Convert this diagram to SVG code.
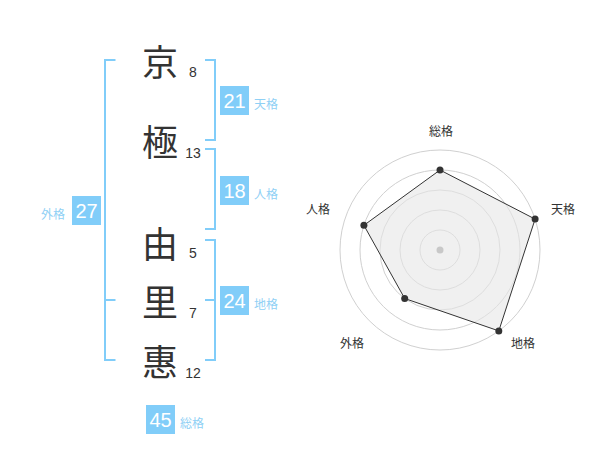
<svg xmlns="http://www.w3.org/2000/svg" width="600" height="470" viewBox="0 0 600 470">
<style>
.ch{font-family:"Noto Sans CJK JP","Noto Sans CJK SC",sans-serif;font-size:36px;fill:#333;text-anchor:middle;dominant-baseline:central}
.num{font-family:"Liberation Sans",Arial,sans-serif;font-size:14px;fill:#333;text-anchor:middle}
.box{fill:#81cdf9}
.bt{font-family:"Liberation Sans",Arial,sans-serif;font-size:20px;fill:#fff;text-anchor:middle;dominant-baseline:central}
.lb{font-family:"Noto Sans CJK JP","Noto Sans CJK SC",sans-serif;font-size:12px;fill:#8fd0f5;dominant-baseline:central}
.br{fill:none;stroke:#81cdf9;stroke-width:2}
.ring{fill:none;stroke:#d0d0d0;stroke-width:1}
.rl{font-family:"Noto Sans CJK JP","Noto Sans CJK SC",sans-serif;font-size:12px;fill:#333;text-anchor:middle;dominant-baseline:central}
.pt{fill:#333}
</style>
<g id="connectors">
<path class="br" d="M115.5,60 H105 V360 H115.5 M105,300 H115.5"/>
<path class="br" d="M205,60 H215 V140 H205"/>
<path class="br" d="M205,149 H215 V229 H205"/>
<path class="br" d="M205,240 H215 V360 H205 M205,300 H215"/>
</g>
<g id="char-kyo"><text class="ch" x="160" y="60">京</text><text class="num" x="193" y="77">8</text></g>
<g id="char-goku"><text class="ch" x="160" y="140">極</text><text class="num" x="193" y="158">13</text></g>
<g id="char-yu"><text class="ch" x="160" y="242">由</text><text class="num" x="193" y="258">5</text></g>
<g id="char-ri"><text class="ch" x="160" y="300">里</text><text class="num" x="193" y="318">7</text></g>
<g id="char-e"><text class="ch" x="160" y="360">惠</text><text class="num" x="193" y="378">12</text></g>
<g id="tenkaku"><rect class="box" x="220" y="86" width="29" height="29"/><text class="bt" x="234.5" y="101">21</text><text class="lb" x="254" y="103">天格</text></g>
<g id="jinkaku"><rect class="box" x="220" y="176" width="29" height="29"/><text class="bt" x="234.5" y="191">18</text><text class="lb" x="254" y="193">人格</text></g>
<g id="chikaku"><rect class="box" x="220" y="286" width="29" height="29"/><text class="bt" x="234.5" y="301">24</text><text class="lb" x="254" y="303">地格</text></g>
<g id="gaikaku"><rect class="box" x="72" y="196" width="29" height="29"/><text class="bt" x="86.5" y="211">27</text><text class="lb" x="41" y="213">外格</text></g>
<g id="soukaku"><rect class="box" x="146" y="405" width="29" height="29"/><text class="bt" x="160.5" y="420">45</text><text class="lb" x="180" y="422">総格</text></g>
<g id="radar">
<circle class="ring" cx="440" cy="250" r="20"/>
<circle class="ring" cx="440" cy="250" r="40"/>
<circle class="ring" cx="440" cy="250" r="60"/>
<circle class="ring" cx="440" cy="250" r="80"/>
<circle class="ring" cx="440" cy="250" r="100"/>
<polygon points="440,170 535.1,219.1 498.8,330.9 404.7,298.5 363.9,225.3" fill="#e6e6e6" fill-opacity="0.6" stroke="#333" stroke-width="1"/>
<circle cx="440" cy="250" r="3.5" fill="#c8c8c8"/>
<circle class="pt" cx="440" cy="170" r="3.5"/>
<circle class="pt" cx="535.1" cy="219.1" r="3.5"/>
<circle class="pt" cx="498.8" cy="330.9" r="3.5"/>
<circle class="pt" cx="404.7" cy="298.5" r="3.5"/>
<circle class="pt" cx="363.9" cy="225.3" r="3.5"/>
<text class="rl" x="441" y="130">総格</text>
<text class="rl" x="563" y="208">天格</text>
<text class="rl" x="523" y="342">地格</text>
<text class="rl" x="352" y="342">外格</text>
<text class="rl" x="318" y="208">人格</text>
</g>
</svg>
